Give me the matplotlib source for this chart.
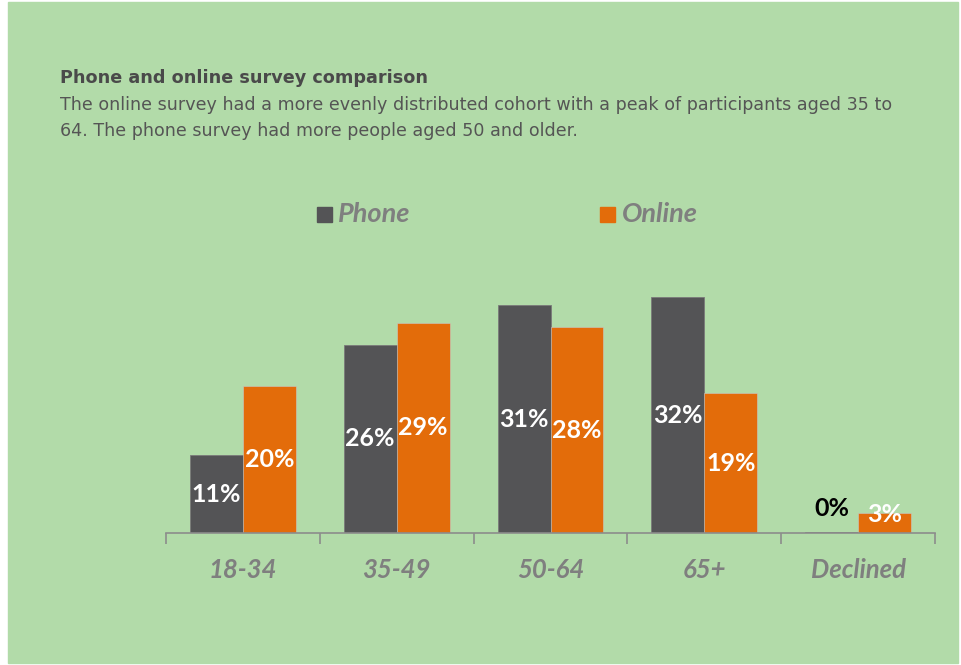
import matplotlib.pyplot as plt
import matplotlib.patches as mpatches
import numpy as np

categories = ['18-34', '35-49', '50-64', '65+', 'Declined']
phone = [10.6, 25.6, 31.0, 32.1, 0.1]
online = [20.0, 28.6, 28.0, 19.0, 2.7]
phone_labels = ['11%', '26%', '31%', '32%', '0%']
online_labels = ['20%', '29%', '28%', '19%', '3%']

bg = '#b2dba9'
c_phone = '#545456'
c_online = '#e36c0a'
grey_txt = '#7f7f7f'

fig = plt.figure(figsize=(9.61, 6.65), dpi=100)
fig.patch.set_facecolor('white')
fig.patches.append(mpatches.Rectangle((8/961, 2/665), 950/961, 661/665,
                                      transform=fig.transFigure, color=bg, zorder=-10))

fig.text(60/961, 1 - 78/665, 'Phone and online survey comparison', fontsize=12.7,
         fontweight='bold', color='#4a4a4a', va='center', family='DejaVu Sans')
fig.text(60/961, 1 - 118/665,
         'The online survey had a more evenly distributed cohort with a peak of participants aged 35 to\n'
         '64. The phone survey had more people aged 50 and older.',
         fontsize=12.6, color='#555555', va='center', linespacing=1.55, family='DejaVu Sans')

ax = fig.add_axes([166/961, (665-533)/665, 769/961, 273/665])
ax.set_facecolor('none')
x = np.arange(len(categories))
w = 53/154
ax.bar(x - w/2, phone, w, color=c_phone, edgecolor='#7a7a7a', linewidth=0.6)
ax.bar(x + w/2, online, w, color=c_online, edgecolor='#c8c8c8', linewidth=0.4)

for i in range(len(categories)):
    if phone[i] < 2:
        ax.text(x[i] - w/2, 3.4, phone_labels[i], ha='center', va='center',
                fontsize=18, fontweight='bold', color='black', family='Lato')
    else:
        ax.text(x[i] - w/2, phone[i]/2, phone_labels[i], ha='center', va='center',
                fontsize=18, fontweight='bold', color='white', family='Lato')
    ax.text(x[i] + w/2, max(online[i]/2, 2.45), online_labels[i], ha='center', va='center',
            fontsize=18, fontweight='bold', color='white', family='Lato')

ax.set_xlim(-0.5, len(categories) - 0.5)
ax.set_ylim(0, 37.14)
for s in ['top', 'right', 'left']:
    ax.spines[s].set_visible(False)
ax.spines['bottom'].set_color('#8c8c8c')
ax.spines['bottom'].set_linewidth(1.2)
ax.set_yticks([])
ax.set_xticks(np.arange(len(categories) + 1) - 0.5)
ax.set_xticklabels([])
ax.tick_params(axis='x', direction='out', length=8, width=1.2, color='#8c8c8c')
for i, c in enumerate(categories):
    ax.text(x[i], -5.0, c, ha='center', va='center', fontsize=18.5, fontweight='bold',
            style='italic', color=grey_txt, family='Lato')

# legend
fig.patches.append(mpatches.Rectangle((317/961, 1 - 222/665), 15/961, 15/665,
                                      transform=fig.transFigure, color=c_phone))
fig.text(338/961, 1 - 214/665, 'Phone', fontsize=19.5, fontweight='bold', style='italic',
         color=grey_txt, va='center', family='Lato')
fig.patches.append(mpatches.Rectangle((600/961, 1 - 222/665), 15/961, 15/665,
                                      transform=fig.transFigure, color=c_online))
fig.text(622/961, 1 - 214/665, 'Online', fontsize=19.5, fontweight='bold', style='italic',
         color=grey_txt, va='center', family='Lato')

fig.savefig('out.png', dpi=100, facecolor=fig.get_facecolor())
